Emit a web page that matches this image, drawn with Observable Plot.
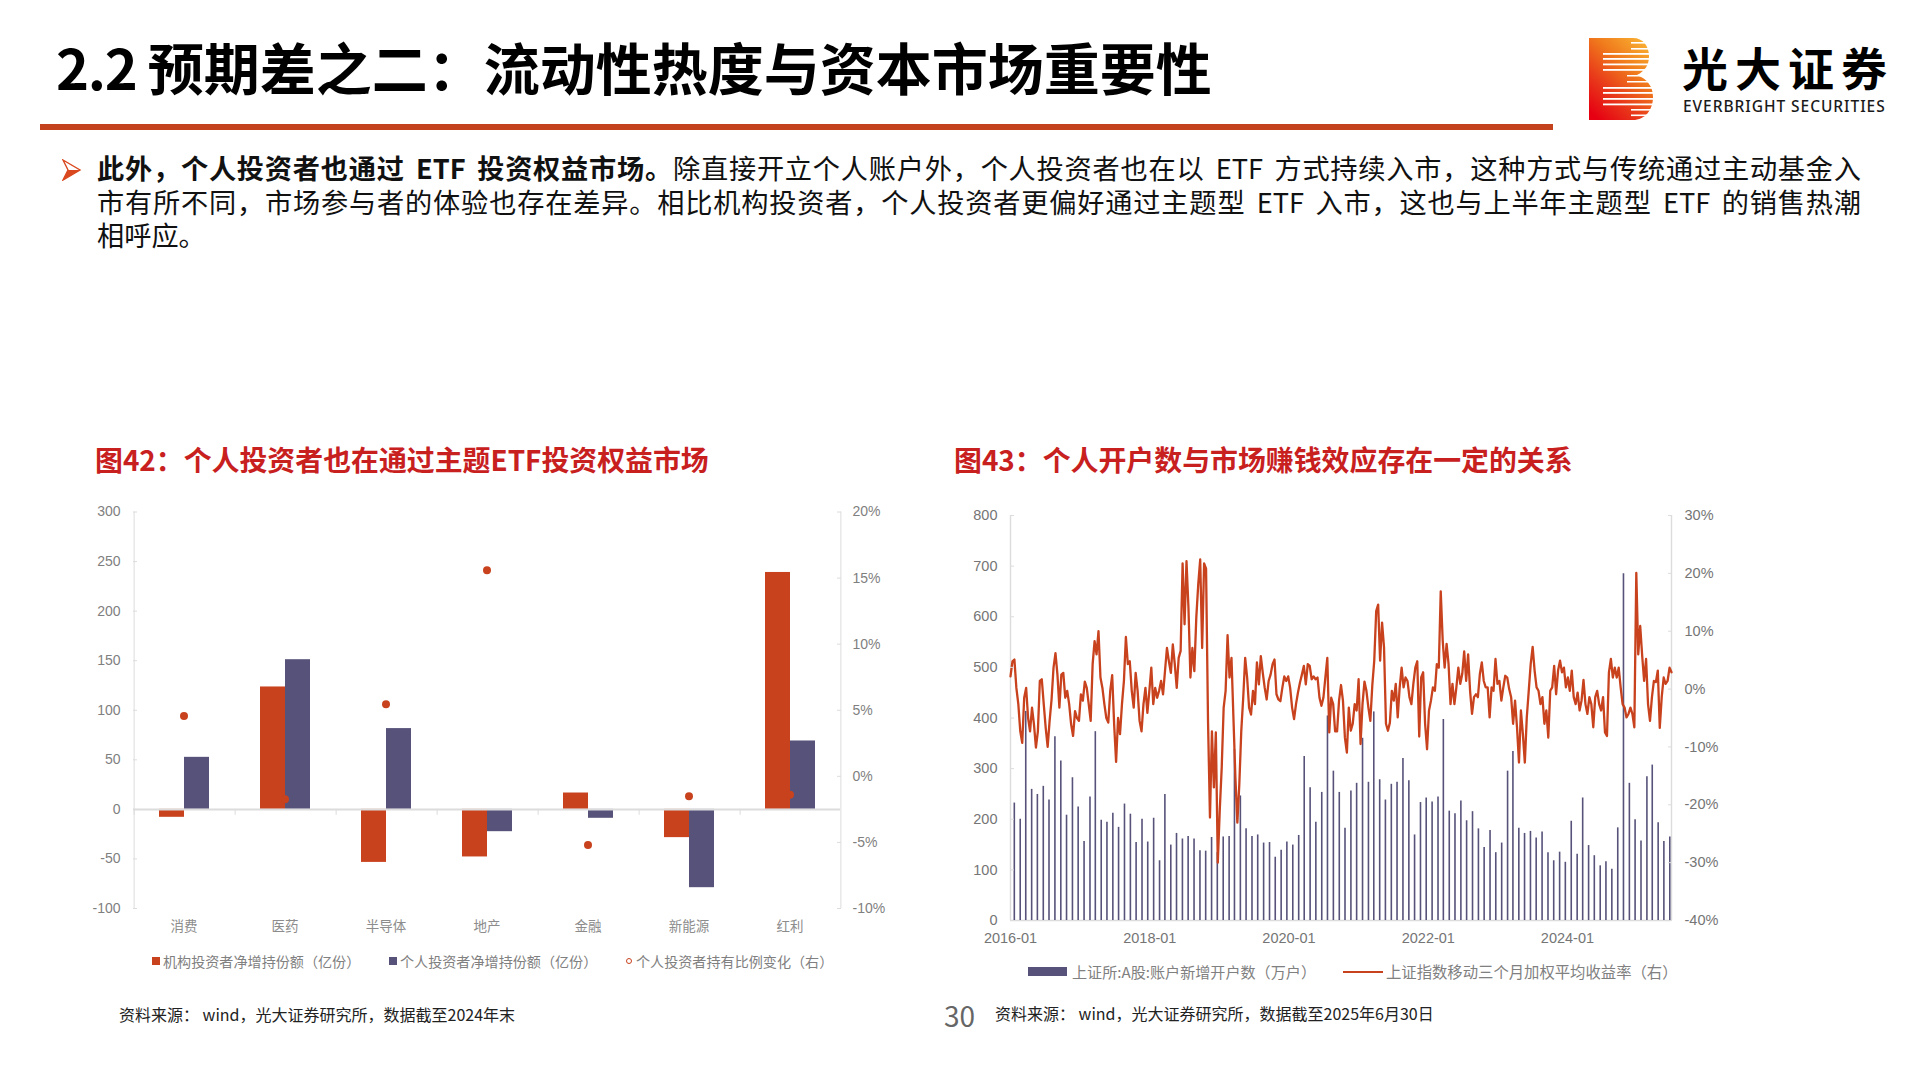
<!DOCTYPE html>
<html lang="zh">
<head>
<meta charset="utf-8">
<script src="https://cdn.jsdelivr.net/npm/d3@7"></script>
<script src="https://cdn.jsdelivr.net/npm/@observablehq/plot@0.6"></script>
<style>
html,body{margin:0;padding:0;background:#fff;}
body{width:1920px;height:1080px;position:relative;overflow:hidden;font-family:"Noto Sans CJK SC",sans-serif;color:#000;}
.abs{position:absolute;white-space:pre;line-height:1;}
.line{position:absolute;left:97px;width:1764px;font-size:27.2px;line-height:1;word-spacing:4.5px;white-space:normal;text-align:justify;text-align-last:justify;color:#111;}
.sub{color:#c8201e;font-weight:700;font-size:27.9px;}
.lg{color:#808080;font-size:14.1px;}
.lg2{color:#808080;font-size:15.1px;}
.src{color:#222;font-size:16px;}
.chart{position:absolute;}
</style>
</head>
<body>
<div class="abs" style="left:56px;top:38px;font-size:56px;font-weight:700;"><span style="letter-spacing:-1.3px;">2.2 </span>预期差之二：流动性热度与资本市场重要性</div>
<div class="abs" style="left:40px;top:124px;width:1513px;height:6px;background:#c5421f;"></div>

<svg class="abs" style="left:1589px;top:38px" width="64" height="82" viewBox="0 0 64 82">
<defs><linearGradient id="lg" x1="0.85" y1="0" x2="0.15" y2="1">
<stop offset="0" stop-color="#f9b233"/><stop offset=".35" stop-color="#f07a1c"/><stop offset=".7" stop-color="#e8361a"/><stop offset="1" stop-color="#e60012"/></linearGradient></defs>
<path fill="url(#lg)" d="M0 0H44C54 0 60 8 60 18C60 27 56 33 48 37C58 41 64 48 64 59C64 72 56 82 44 82H0Z"/>
<g fill="#fff">
<rect x="42" y="4" width="20" height="1.6"/><rect x="42" y="10" width="20" height="1.6"/>
<rect x="14" y="15" width="50" height="1.8"/><rect x="14" y="20" width="50" height="1.8"/><rect x="14" y="25.5" width="50" height="1.8"/><rect x="14" y="31" width="50" height="1.8"/>
<rect x="38" y="37" width="26" height="1.5"/><rect x="38" y="43" width="26" height="1.5"/>
<rect x="14" y="49" width="50" height="1.8"/><rect x="14" y="54" width="50" height="1.8"/><rect x="14" y="60" width="50" height="1.8"/><rect x="14" y="65.5" width="50" height="1.8"/>
<rect x="42" y="71" width="22" height="1.6"/><rect x="42" y="76.5" width="22" height="1.6"/>
</g></svg>
<div class="abs" style="left:1682px;top:43px;font-size:46px;font-weight:700;letter-spacing:7px;">光大证券</div>
<div class="abs" style="left:1683px;top:99px;font-family:'Noto Sans';font-size:15.5px;font-weight:500;letter-spacing:.95px;color:#1a1a1a;">EVERBRIGHT SECURITIES</div>

<svg class="abs" style="left:62px;top:159px" width="20" height="22" viewBox="0 0 20 22"><path d="M1 1L18 11L1 21L6 11Z" fill="#fff" stroke="#d9481e" stroke-width="1.4"/><path d="M1 21L18 11L6 11Z" fill="#d9481e"/></svg>
<div class="line" style="top:154px;"><b>此外，个人投资者也通过 ETF 投资权益市场。</b>除直接开立个人账户外，个人投资者也在以 ETF 方式持续入市，这种方式与传统通过主动基金入</div>
<div class="line" style="top:188px;">市有所不同，市场参与者的体验也存在差异。相比机构投资者，个人投资者更偏好通过主题型 ETF 入市，这也与上半年主题型 ETF 的销售热潮</div>
<div class="line" style="top:221px;text-align:left;text-align-last:left;">相呼应。</div>

<div class="abs sub" style="left:95px;top:446px;">图42：个人投资者也在通过主题ETF投资权益市场</div>
<div class="abs sub" style="left:954px;top:446px;">图43：个人开户数与市场赚钱效应存在一定的关系</div>

<div id="left" class="chart" style="left:59px;top:490px;"></div>
<div id="right" class="chart" style="left:949px;top:490px;"></div>

<div class="abs" style="left:152px;top:957px;width:8px;height:8px;background:#c8421e;"></div>
<div class="abs lg" style="left:163px;top:954px;">机构投资者净增持份额（亿份）</div>
<div class="abs" style="left:389px;top:957px;width:8px;height:8px;background:#56527a;"></div>
<div class="abs lg" style="left:400px;top:954px;">个人投资者净增持份额（亿份）</div>
<div class="abs" style="left:626px;top:958px;width:4px;height:4px;border:1.6px solid #c8421e;border-radius:50%;"></div>
<div class="abs lg" style="left:636px;top:954px;">个人投资者持有比例变化（右）</div>

<div class="abs" style="left:1028px;top:967px;width:39px;height:9px;background:#56527a;"></div>
<div class="abs lg2" style="left:1072px;top:964px;">上证所:A股:账户新增开户数（万户）</div>
<div class="abs" style="left:1343px;top:971px;width:40px;height:2px;background:#c8421e;"></div>
<div class="abs lg2" style="left:1386px;top:964px;font-size:15.35px;">上证指数移动三个月加权平均收益率（右）</div>

<div class="abs src" style="left:119px;top:1006px;">资料来源： wind，光大证券研究所，数据截至2024年末</div>
<div class="abs src" style="left:995px;top:1005px;">资料来源： wind，光大证券研究所，数据截至2025年6月30日</div>
<div class="abs" style="left:944px;top:1001px;font-size:28px;color:#666;">30</div>

<script>
// ---------- Figure 42 ----------
const categories = ["消费","医药","半导体","地产","金融","新能源","红利"];
const institutionShares = [-8,123.5,-53.5,-48,16.5,-28.5,239];
const retailShares = [52.5,151,81.5,-22.5,-9,-79,69];
const retailRatioChange = [4.57,-1.73,5.46,15.6,-5.2,-1.5,-1.4];
const leftTicks = [-100,-50,0,50,100,150,200,250,300];
const leftPctTicks = [-10,-5,0,5,10,15,20];

// ---------- Figure 43 ----------
const monthlyNewAccounts = [
232,200,413,259,249,265,238,363,315,208,282,224,
156,244,373,198,194,212,184,230,210,154,200,155,
202,118,249,149,172,161,166,161,138,137,164,134,
165,166,338,246,181,166,169,153,154,125,139,155,
149,168,324,262,194,253,404,295,253,182,256,271,
360,273,412,278,238,269,273,320,276,169,233,242,
234,244,397,216,211,236,197,215,181,144,178,134,
153,295,334,182,172,176,163,175,134,118,135,115,
196,131,242,148,128,108,116,101,183,685,271,199,
157,284,307,193,156,165];
const indexReturnPct = [
2.2,4.8,5.1,0.2,-2.6,-7.3,-9.3,-1.5,0.2,-5,-7.3,-3.2,-6.1,-10.1,-7.3,1.4,1.7,-2.6,-6.7,-10,-5.5,-1.8,3.7,6.2,2.5,-3.2,2.5,2.8,-1.5,-0.3,-2.6,-6.1,-8.1,-3.8,-5,-5.5,-0.9,-2,1.3,0.2,-2.6,-5.5,4.3,8.3,6,10,2,0.2,-2.6,-5,-5.8,-0.3,2.4,-6.1,-12.6,-5,-7.8,-2.6,1.4,9,4.3,4.8,-0.3,-3.2,2.8,-0.3,-5.5,-7.3,-2.6,0.2,-4.1,-0.3,3.7,-2.6,0.2,-1.5,-0.3,1.4,-0.9,3.1,7.1,4.8,2.8,7.7,4.3,0.2,5.4,6.6,21.7,11.2,22.1,14,2,7.1,3.1,12.3,18.1,22.4,7.1,21.7,20.8,-5.5,-22.2,-7.3,-17,-7.5,-30,-21,-13.6,-3.2,-0.3,9.3,2,5.4,-5,-15.3,-23.1,-16.5,-7.3,-1.5,5.4,2,-3.2,-4.4,-0.3,-2.6,4.6,0.8,5.7,2.8,0.2,-1.8,1.4,2.5,4.3,5.1,-0.9,-1.8,-2.1,0.2,2.2,1.4,2.2,0.2,-3.2,-5.2,-2.6,-0.6,1.1,2.5,4,0.8,4.3,4,1.7,2.2,1.7,2,-1.5,-2.9,-1.5,2,5.4,-7.5,-1.5,-2.6,-7.3,-7.3,-2,0.7,-2,-8.4,-11,
-3.2,-7.2,-6,-2.6,-3.7,1.7,-9.5,-2.6,1.3,-0.3,-3.2,-5.5,0.6,4.9,13.5,14.6,4.9,11.5,7.2,-6,-7.2,-5.8,-0.3,-2,0.9,-4.9,0.3,3.7,0.3,2,1.4,-1.4,-2.6,0.9,3.7,4.8,-8.2,2,2.9,-6,-10.4,-3.7,-2,0.3,-0.3,4.3,3.7,16.9,8.4,3.7,7.8,4.3,-2.6,0.9,-2.6,0.3,3.7,0.9,2.6,6.5,1.4,6,-0.3,-4.3,-1.4,-0.9,-1.4,2.6,4.6,1.4,0.3,0.3,-4.9,0.3,-0.3,5.2,0.9,1.4,-2,0.3,2.3,2,0,-1.4,-6,-2,-6.6,-12.7,-3.7,-7.8,-12.7,-4.9,-0.3,4.3,7.3,3.2,0.3,-0.3,-2.6,-1.4,-6,-3.7,-8.4,-0.3,0.3,4,-0.9,3.2,4.9,2.9,3.7,0.3,2,-0.3,3.2,-1.4,-2.6,-0.6,-3.7,-2,1.6,-2.6,-4.3,-1.4,-2.6,-6.6,-1.4,-0.3,-2.6,-3.7,-1.4,-7.5,-8.1,2.9,5.2,2,3.7,2,3.7,0.3,-2.6,-3.2,-4.9,-4.3,-3.2,-4.3,-6.6,20.1,6,10.9,5.8,1.4,5.2,-2.6,-5.5,-1.4,1.4,1.2,3.2,-6.7,-1.4,2,0.9,1.4,3.7,2.9];
const rightTicks = [0,100,200,300,400,500,600,700,800];
const rightPctTicks = [-40,-30,-20,-10,0,10,20,30];
const yearTicks = ["2016-01","2018-01","2020-01","2022-01","2024-01"];

const AXIS = "#dcdcdc", ORANGE = "#c8421e", NAVY = "#56527a";
const CJK = '"Noto Sans CJK SC"';

// Figure 42: the right-hand percentage axis maps onto the left axis domain
const leftFromPct = d3.scaleLinear([-10,20],[-100,300]);
const bars = categories.flatMap((c,i)=>[
  {cat:c,who:"机构",v:institutionShares[i]},
  {cat:c,who:"个人",v:retailShares[i]}]);
const dots = categories.map((c,i)=>({cat:c,pct:retailRatioChange[i]}));
const edge = 37.875;

document.getElementById("left").append(Plot.plot({
  width:840,height:470,marginLeft:74,marginRight:59,marginTop:21.5,marginBottom:52,
  style:{fontFamily:"Liberation Sans",fontSize:"14px",background:"transparent"},
  fx:{domain:categories,padding:0,label:null},
  x:{domain:["机构","个人"],paddingInner:0,paddingOuter:1,axis:null},
  y:{domain:[-100,300],label:null},
  color:{domain:["机构","个人"],range:[ORANGE,NAVY]},
  marks:[
    Plot.barY(bars,{fx:"cat",x:"who",y:"v",fill:"who",inset:0,insetLeft:0,insetRight:0}),
    Plot.ruleY([0],{stroke:AXIS,strokeWidth:2}),
    Plot.ruleX([0],{x:()=>"机构",dx:-edge,y1:0,y2:-6,stroke:AXIS}),
    Plot.ruleX(["消费"],{fx:d=>d,x:()=>"机构",dx:-edge,y1:-100,y2:300,stroke:AXIS}),
    Plot.ruleX(["红利"],{fx:d=>d,x:()=>"个人",dx:edge,y1:-100,y2:300,stroke:AXIS}),
    Plot.dot(dots,{fx:"cat",y:d=>leftFromPct(d.pct),r:4,fill:ORANGE}),
    Plot.axisY(leftTicks,{anchor:"left",tickSize:-4,tickPadding:17,stroke:AXIS,fill:"#7f7f7f",tickFormat:d=>String(d),label:null,fontSize:14}),
    Plot.axisY(leftPctTicks.map(p=>leftFromPct(p)),{anchor:"right",tickSize:-4,tickPadding:16,stroke:AXIS,fill:"#7f7f7f",tickFormat:v=>Math.round(leftFromPct.invert(v))+"%",label:null,fontSize:14}),
    Plot.axisFx({anchor:"bottom",tickSize:0,tickPadding:13,fill:"#8c8c8c",fontFamily:CJK,fontSize:13.5,label:null})
  ]
}));

// Figure 43
const leftFromRet = d3.scaleLinear([-40,30],[0,800]);
const parseYM = d3.utcParse("%Y-%m");
const months = d3.utcMonth.range(new Date(Date.UTC(2016,0,1)),new Date(Date.UTC(2025,6,1)));
const monthly = monthlyNewAccounts.map((v,i)=>({date:d3.utcDay.offset(months[i],20),v}));
const startT = Date.UTC(2016,0,1), endT = Date.UTC(2025,5,30);
const retSeries = indexReturnPct.map((p,i)=>({date:new Date(startT+(endT-startT)*i/(indexReturnPct.length-1)),p}));

document.getElementById("right").append(Plot.plot({
  width:780,height:490,marginLeft:61,marginRight:58,marginTop:25,marginBottom:60,
  style:{fontFamily:"Liberation Sans",fontSize:"14.5px",background:"transparent"},
  x:{type:"utc",domain:[new Date(startT),new Date(endT)],label:null},
  y:{domain:[0,800],label:null},
  marks:[
    Plot.ruleX([new Date(startT)],{y1:0,y2:800,stroke:AXIS,strokeWidth:1.4}),
    Plot.ruleX([new Date(endT)],{y1:0,y2:800,stroke:AXIS,strokeWidth:1.4}),
    Plot.ruleY([0],{stroke:AXIS,strokeWidth:1.6}),
    Plot.ruleX(monthly,{x:"date",y1:0,y2:"v",stroke:NAVY,strokeWidth:1.6}),
    Plot.lineY(retSeries,{x:"date",y:d=>leftFromRet(d.p),stroke:ORANGE,strokeWidth:2.3,curve:"linear"}),
    Plot.axisY(rightTicks,{anchor:"left",tickSize:-4,tickPadding:17,stroke:AXIS,fill:"#757575",tickFormat:d=>String(d),label:null,fontSize:14.5}),
    Plot.axisY(rightPctTicks.map(p=>leftFromRet(p)),{anchor:"right",tickSize:-4,tickPadding:17,stroke:AXIS,fill:"#757575",tickFormat:v=>Math.round(leftFromRet.invert(v))+"%",label:null,fontSize:14.5}),
    Plot.axisX(yearTicks.map(s=>parseYM(s)),{anchor:"bottom",tickSize:0,tickPadding:12,fill:"#757575",tickFormat:d3.utcFormat("%Y-%m"),label:null,fontSize:14.5})
  ]
}));
</script>
</body>
</html>
